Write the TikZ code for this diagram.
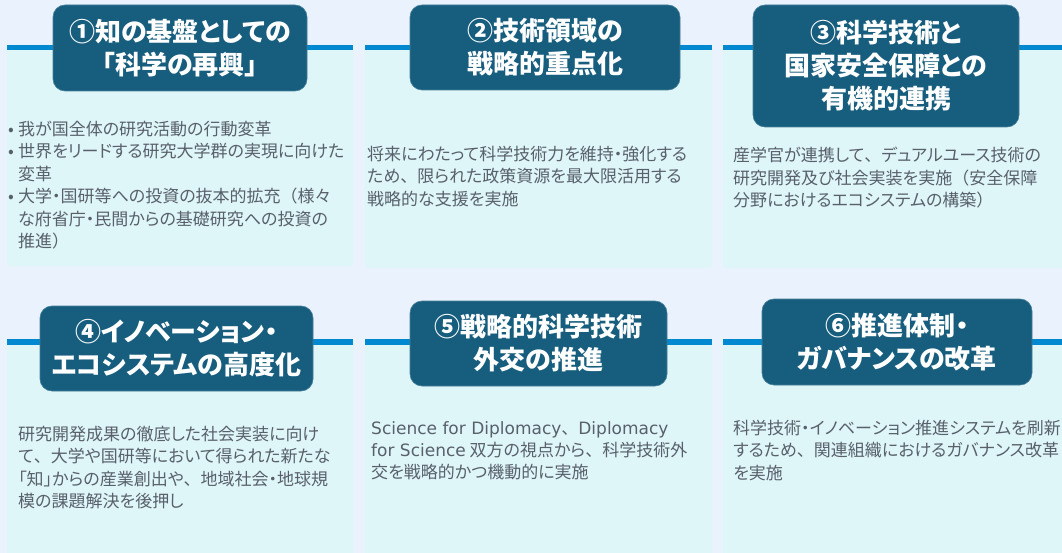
\documentclass[tikz,border=0pt]{standalone}
\usepackage{fontspec}
\setmainfont{Noto Sans CJK JP}
\newfontfamily\jpp[RawFeature=+palt]{Noto Sans CJK JP}
\newfontfamily\jpfull{Noto Sans CJK JP}
\newfontfamily\latin{DejaVu Sans}
\definecolor{bgc}{RGB}{234,242,253}
\definecolor{panelc}{RGB}{223,246,249}
\definecolor{linec}{RGB}{0,136,208}
\definecolor{titlec}{RGB}{23,94,126}
\definecolor{bodyc}{RGB}{88,96,106}
\newcommand{\lt}[1]{{\latin\fontsize{17}{22.4}\selectfont #1}}
\newcommand{\fw}[1]{{\jpfull #1}}
\tikzset{
  x=1pt, y=-1pt,
  panel/.style={fill=panelc, rounded corners=3pt},
  bar/.style={draw=linec, line width=5.5pt},
  tbox/.style={fill=titlec, draw=titlec!80!white, line width=0.6pt, rounded corners=12pt,
    text=white, align=center, inner sep=0pt,
    font=\jpp\bfseries\fontsize{26}{33}\selectfont},
  body/.style={anchor=north west, inner sep=0pt, align=left, text=bodyc,
    font=\jpp\fontsize{17}{22.4}\selectfont}
}
\begin{document}
\begin{tikzpicture}
\useasboundingbox (0,0) rectangle (1062,553);
\fill[bgc] (0,0) rectangle (1062,553);
% panels row 1
\fill[panel] (7,45) rectangle (353,266);
\fill[panel] (365,45) rectangle (712,268);
\fill[panel] (723,45) rectangle (1066,268);
\draw[bar] (7,47.75) -- (353,47.75);
\draw[bar] (365,47.75) -- (712,47.75);
\draw[bar] (723,47.75) -- (1062,47.75);
% panels row 2
\fill[panel] (7,339) rectangle (353,560);
\fill[panel] (365,339) rectangle (712,560);
\fill[panel] (723,339) rectangle (1066,560);
\draw[bar] (7,341.75) -- (353,341.75);
\draw[bar] (365,341.75) -- (712,341.75);
\draw[bar] (723,341.75) -- (1062,341.75);
% titles
\node[tbox, minimum width=254pt, minimum height=86pt] (t1) at (180,48) {①知の基盤としての\\「科学の再興」};
\node[tbox, minimum width=270pt, minimum height=85pt] (t2) at (545,47.5) {②技術領域の\\戦略的重点化};
\node[tbox, minimum width=266pt, minimum height=122pt] (t3) at (886,66) {③科学技術と\\国家安全保障との\\有機的連携};
\node[tbox, minimum width=273pt, minimum height=85pt] (t4) at (176.5,348.5) {④イノベーション・\\エコシステムの高度化};
\node[tbox, minimum width=257pt, minimum height=85pt] (t5) at (538.5,343.5) {⑤戦略的科学技術\\外交の推進};
\node[tbox, minimum width=270pt, minimum height=86pt] (t6) at (897,342) {⑥推進体制・\\ガバナンスの改革};
% bodies
\node[body] (b1) at (8,121) {\makebox[10pt][l]{•}我が国全体の研究活動の行動変革\\
\makebox[10pt][l]{•}世界をリードする研究大学群の実現に向けた\\
\hspace*{10pt}変革\\
\makebox[10pt][l]{•}大学・国研等への投資の抜本的拡充\fw{（}様々\\
\hspace*{10pt}な府省庁・民間からの基礎研究への投資の\\
\hspace*{10pt}推進\fw{）}};
\node[body] (b2) at (367,146) {将来にわたって科学技術力を維持・強化する\\ため\fw{、}限られた政策資源を最大限活用する\\戦略的な支援を実施};
\node[body] (b3) at (733,147) {産学官が連携して\fw{、}デュアルユース技術の\\研究開発及び社会実装を実施\fw{（}安全保障\\分野におけるエコシステムの構築\fw{）}};
\node[body] (b4) at (18,426) {研究開発成果の徹底した社会実装に向け\\て\fw{、}大学や国研等において得られた新たな\\「知」からの産業創出や\fw{、}地域社会・地球規\\模の課題解決を後押し};
\node[body] (b5) at (371,421) {\lt{Science for Diplomacy}\fw{、}\lt{Diplomacy}\\\lt{for Science} 双方の視点から\fw{、}科学技術外\\交を戦略的かつ機動的に実施};
\node[body] (b6) at (733,420) {科学技術・イノベーション推進システムを刷新\\するため\fw{、}関連組織におけるガバナンス改革\\を実施};
\end{tikzpicture}
\end{document}
